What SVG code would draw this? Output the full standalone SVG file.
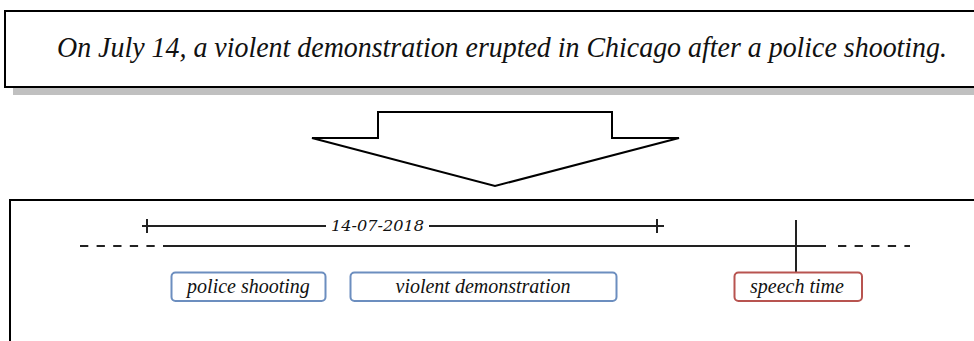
<svg xmlns="http://www.w3.org/2000/svg" width="974" height="341" viewBox="0 0 974 341">
<style>
.t{font-family:'Liberation Serif','Times New Roman',serif;font-style:italic;fill:#111}
.ev{fill:#fff;stroke-width:2}
.tl{stroke:#222;stroke-width:2;fill:none}
</style>
<rect width="974" height="341" fill="#fff"/>
<g id="sentence">
<rect x="13" y="19" width="975" height="76" fill="#c0c0c0"/>
<rect x="5" y="11" width="975" height="76" fill="#fff" stroke="#000" stroke-width="2"/>
<text class="t" x="502" y="57" font-size="30" text-anchor="middle" textLength="890" lengthAdjust="spacingAndGlyphs">On July 14, a violent demonstration erupted in Chicago after a police shooting.</text>
</g>
<g id="arrow">
<path d="M312,138 L378,138 L378,112 L612,112 L612,138 L679,138 L495,186 Z" fill="#fff" stroke="#000" stroke-width="2" stroke-linejoin="miter"/>
</g>
<g id="timeline-box">
<rect x="10" y="200" width="975" height="150" fill="#fff" stroke="#000" stroke-width="2"/>
</g>
<g id="connectors">
<line class="tl" x1="142" y1="226" x2="664" y2="226"/>
<line class="tl" x1="147" y1="219" x2="147" y2="233"/>
<line class="tl" x1="657" y1="219" x2="657" y2="233"/>
<rect x="326" y="216" width="103" height="20" fill="#fff"/>
<line class="tl" x1="80" y1="246" x2="172" y2="246" stroke-dasharray="8.3 8.3"/>
<line class="tl" x1="165" y1="246" x2="826" y2="246" stroke="#333"/>
<line class="tl" x1="838" y1="246" x2="910" y2="246" stroke-dasharray="8.3 8.3"/>
<line class="tl" x1="796" y1="220" x2="796" y2="272"/>
</g>
<g id="date">
<text x="377.5" y="231" font-family="DejaVu Serif, Georgia, serif" font-style="italic" font-size="15" text-anchor="middle" fill="#111" textLength="93" lengthAdjust="spacingAndGlyphs">14-07-2018</text>
</g>
<g id="police-shooting">
<rect class="ev" x="171.5" y="272.5" width="154" height="28.5" rx="4" stroke="#6c8ebf"/>
<text class="t" x="248.5" y="293" font-size="20" text-anchor="middle">police shooting</text>
</g>
<g id="violent-demonstration">
<rect class="ev" x="350.5" y="272.5" width="266" height="28.5" rx="4" stroke="#6c8ebf"/>
<text class="t" x="483" y="293" font-size="20" text-anchor="middle">violent demonstration</text>
</g>
<g id="speech-time">
<rect class="ev" x="734.5" y="272.5" width="127.5" height="28.5" rx="4" stroke="#b85450"/>
<text class="t" x="797" y="293" font-size="20" text-anchor="middle">speech time</text>
</g>
</svg>
